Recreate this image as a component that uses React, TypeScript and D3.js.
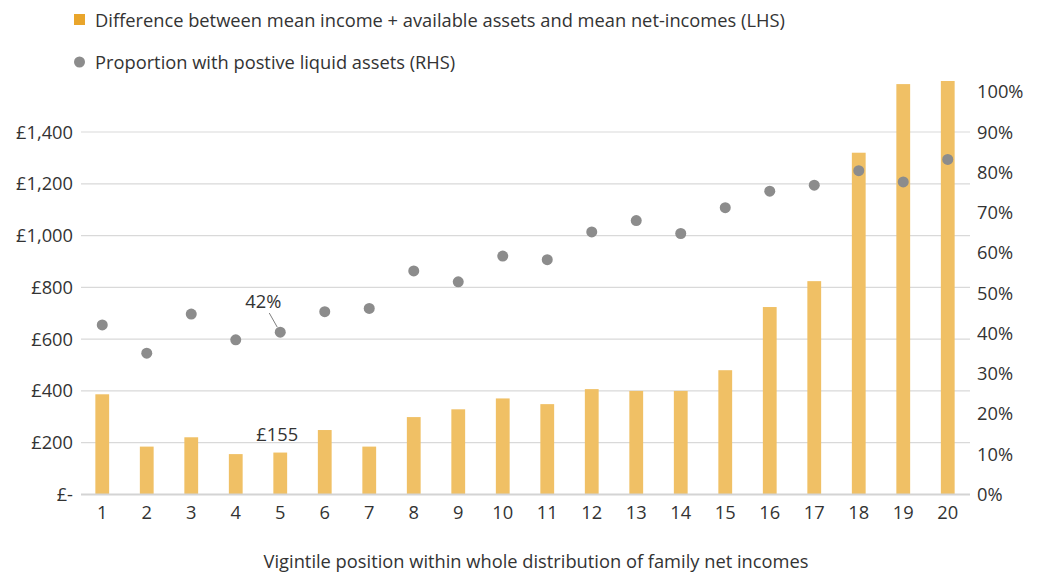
import React, {useEffect, useRef} from 'react';
import * as d3 from 'd3';

// vigintiles along the x axis
const vigintiles: string[] = d3.range(1, 21).map(String);

// difference between mean income + available assets and mean net income (£, LHS)
const incomeGap: number[] = [
  387, 185, 221, 156, 162, 249, 185, 299, 329, 371,
  349, 407, 400, 400, 480, 724, 824, 1320, 1585, 1597
];

// proportion with positive liquid assets (%, RHS)
const liquidShare: number[] = [
  42.1, 35.1, 44.8, 38.4, 40.3, 45.4, 46.2, 55.5, 52.8, 59.2,
  58.3, 65.2, 68.0, 64.8, 71.2, 75.3, 76.8, 80.4, 77.6, 83.2
];

const leftTicks: number[] = [0, 200, 400, 600, 800, 1000, 1200, 1400];
const rightTicks: number[] = [0, 10, 20, 30, 40, 50, 60, 70, 80, 90, 100];

const legendLabels: string[] = [
  'Difference between mean income + available assets and mean net-incomes (LHS)',
  'Proportion with postive liquid assets (RHS)'
];
const xTitle = 'Vigintile position within whole distribution of family net incomes';

const App = () => {
  const ref = useRef<SVGSVGElement>(null);

  useEffect(() => {
    drawChart();
    return () => {
      d3.select(ref.current).selectAll('*').remove();
    };
  }, []);

  const drawChart = () => {
    const width = 1042;
    const height = 575;
    const font = "'Open Sans', sans-serif";
    const fs = 18.3;
    const textCol = '#333333';
    const barCol = '#F0C065';
    const dotCol = '#8C8C8C';

    // plot area
    const left = 80;
    const right = 970;
    const base = 494.5;

    const svg = d3.select(ref.current)
      .attr('width', width)
      .attr('height', height)
      .style('font-family', font);

    const x = d3.scaleBand<string>()
      .domain(vigintiles)
      .range([left, right])
      .paddingInner(0.69)
      .paddingOuter(0.345);

    // £1,400 sits at y=132
    const yL = d3.scaleLinear().domain([0, 1400]).range([base, 132]);
    const yR = d3.scaleLinear().domain([0, 90]).range([base, 132]);

    // gridlines
    svg.append('g')
      .selectAll('line')
      .data(leftTicks.filter(t => t > 0))
      .enter().append('line')
      .attr('x1', left + 1)
      .attr('x2', right)
      .attr('y1', d => yL(d))
      .attr('y2', d => yL(d))
      .attr('stroke', '#D9D9D9')
      .attr('stroke-width', 1.2);

    // bars
    svg.append('g')
      .selectAll('rect')
      .data(incomeGap)
      .enter().append('rect')
      .attr('x', (d, i) => x(vigintiles[i])!)
      .attr('width', x.bandwidth())
      .attr('y', d => yL(d))
      .attr('height', d => base - yL(d))
      .attr('fill', barCol);

    // baseline
    svg.append('line')
      .attr('x1', left + 1)
      .attr('x2', right)
      .attr('y1', base)
      .attr('y2', base)
      .attr('stroke', '#D4D4D4')
      .attr('stroke-width', 2);

    // dots
    svg.append('g')
      .selectAll('circle')
      .data(liquidShare)
      .enter().append('circle')
      .attr('cx', (d, i) => x(vigintiles[i])! + x.bandwidth() / 2)
      .attr('cy', d => yR(d))
      .attr('r', 5.5)
      .attr('fill', dotCol);

    // left axis labels
    svg.append('g')
      .selectAll('text')
      .data(leftTicks)
      .enter().append('text')
      .attr('x', 73)
      .attr('y', d => yL(d) + 6.5)
      .attr('text-anchor', 'end')
      .attr('font-size', fs)
      .attr('fill', textCol)
      .text(d => d === 0 ? '£-' : '£' + d3.format(',')(d));

    // right axis labels
    svg.append('g')
      .selectAll('text')
      .data(rightTicks)
      .enter().append('text')
      .attr('x', 977)
      .attr('y', d => yR(d) + 6.5)
      .attr('font-size', fs)
      .attr('fill', textCol)
      .text(d => d + '%');

    // x tick labels
    svg.append('g')
      .selectAll('text')
      .data(vigintiles)
      .enter().append('text')
      .attr('x', d => x(d)! + x.bandwidth() / 2)
      .attr('y', 519)
      .attr('text-anchor', 'middle')
      .attr('font-size', fs)
      .attr('fill', textCol)
      .text(d => d);

    // x title
    svg.append('text')
      .attr('x', 536)
      .attr('y', 568)
      .attr('text-anchor', 'middle')
      .attr('font-size', fs)
      .attr('fill', textCol)
      .text(xTitle);

    // annotations
    const ann5x = x(vigintiles[4])! + x.bandwidth() / 2;
    svg.append('text')
      .attr('x', ann5x - 17)
      .attr('y', 308)
      .attr('text-anchor', 'middle')
      .attr('font-size', fs)
      .attr('fill', textCol)
      .text('42%');
    svg.append('line')
      .attr('x1', ann5x - 11)
      .attr('y1', 313)
      .attr('x2', ann5x - 3)
      .attr('y2', yR(liquidShare[4]) - 5)
      .attr('stroke', '#7F7F7F')
      .attr('stroke-width', 1);
    svg.append('text')
      .attr('x', ann5x - 3)
      .attr('y', 441)
      .attr('text-anchor', 'middle')
      .attr('font-size', fs)
      .attr('fill', textCol)
      .text('£155');

    // legend
    svg.append('rect')
      .attr('x', 74)
      .attr('y', 14)
      .attr('width', 11)
      .attr('height', 11)
      .attr('fill', '#E9A52B');
    svg.append('circle')
      .attr('cx', 79.5)
      .attr('cy', 62)
      .attr('r', 5.5)
      .attr('fill', dotCol);
    svg.append('g')
      .selectAll('text')
      .data(legendLabels)
      .enter().append('text')
      .attr('x', 95)
      .attr('y', (d, i) => 26.5 + i * 42)
      .attr('font-size', fs)
      .attr('fill', textCol)
      .text(d => d);
  };

  return (
    <svg ref={ref} style={{position: 'absolute', left: 0, top: 0}}></svg>
  );
};

export default App;
